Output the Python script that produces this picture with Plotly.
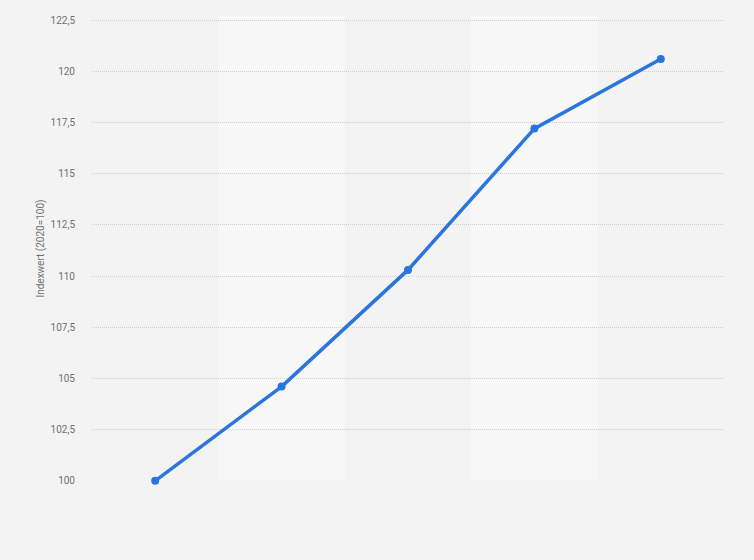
import plotly.graph_objects as go

categories = ["2020", "2021", "2022", "2023", "2024"]
values = [100.0, 104.6, 110.3, 117.2, 120.6]
y_tick_values = [100, 102.5, 105, 107.5, 110, 112.5, 115, 117.5, 120, 122.5]
y_title = "Indexwert (2020=100)"

x_idx = list(range(len(categories)))

fig = go.Figure()
fig.add_trace(go.Scatter(
    x=x_idx, y=values, mode="lines+markers",
    line=dict(color="#2a76dd", width=3.5),
    marker=dict(color="#2a76dd", size=8),
    cliponaxis=False, hoverinfo="skip", showlegend=False,
))

# alternating column bands
for i in x_idx:
    if i % 2 == 1:
        fig.add_shape(type="rect", xref="x", yref="y",
                      x0=i - 0.5, x1=i + 0.5, y0=100, y1=122.7,
                      fillcolor="#f7f7f7", line_width=0, layer="below")

fig.update_layout(
    width=754, height=560,
    margin=dict(l=92, r=30, t=16, b=79),
    paper_bgcolor="#f3f3f3", plot_bgcolor="#f3f3f3",
    separators=",.",
    font=dict(family="Roboto, Arial, sans-serif", size=10, color="#707070"),
)
fig.update_xaxes(range=[-0.5, 4.5], showticklabels=False, showgrid=False,
                 zeroline=False, showline=False, ticks="")
fig.update_yaxes(range=[99.99, 122.7], tickvals=y_tick_values,
                 showgrid=True, gridcolor="#cfcfcf", griddash="1px,1px", gridwidth=1,
                 zeroline=False, showline=False,
                 ticks="outside", ticklen=14, tickcolor="rgba(0,0,0,0)",
                 tickfont=dict(size=10, color="#707070"),
                 title=dict(text=y_title, font=dict(size=10, color="#707070"), standoff=4))

fig.write_html("out.html", config={"displayModeBar": False},
               post_script="document.body.style.margin='0';document.body.style.background='#f3f3f3';")
